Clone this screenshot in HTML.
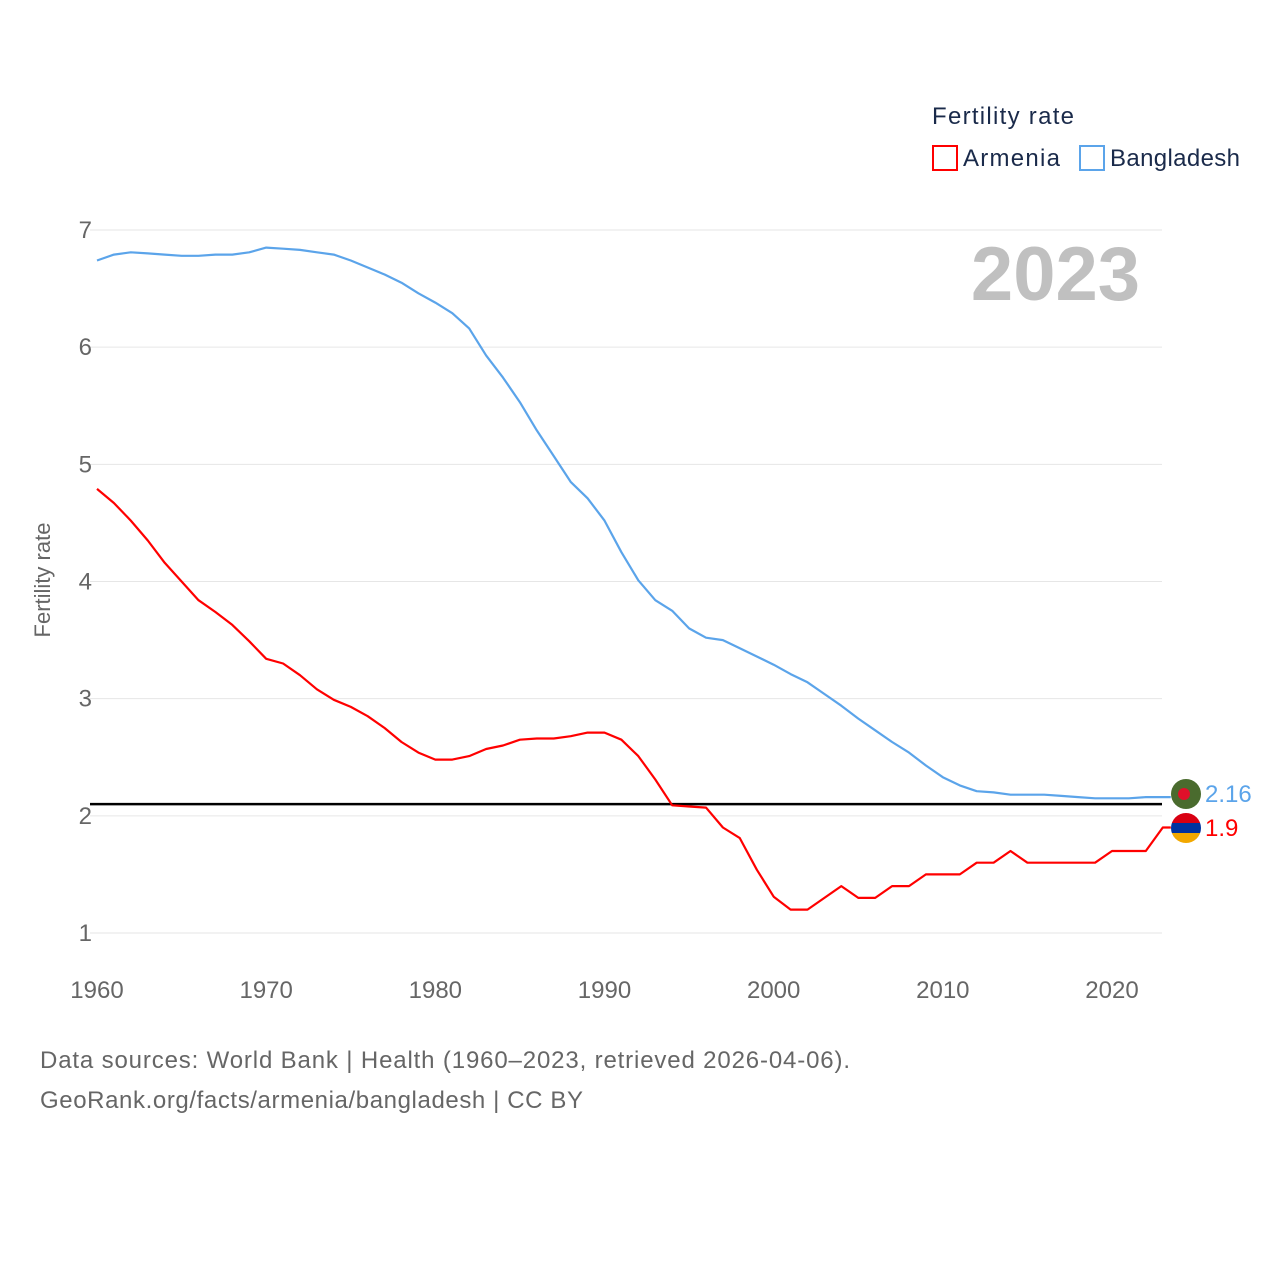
<!DOCTYPE html>
<html><head><meta charset="utf-8"><style>
body{margin:0;background:#fff;font-family:"Liberation Sans",sans-serif}
svg{display:block}
</style></head><body>
<svg id="chart" width="1280" height="1280" xmlns="http://www.w3.org/2000/svg">
<g id="grid"></g>
<g id="yticks"></g>
<g id="xticks"></g>
<text x="1140" y="300" text-anchor="end" font-size="76" font-weight="bold" fill="#c0c0c0">2023</text>
<text transform="translate(50,580) rotate(-90)" text-anchor="middle" font-size="22" fill="#666">Fertility rate</text>
<g id="series"></g>
<g>
<text x="932" y="124" font-size="24" fill="#1a2a4a" textLength="142">Fertility rate</text>
<g><rect x="933" y="146" width="24" height="24" fill="none" stroke="#ff0000" stroke-width="2"/><text x="963" y="166" font-size="24" fill="#1a2a4a" textLength="97">Armenia</text></g>
<g><rect x="1080" y="146" width="24" height="24" fill="none" stroke="#5ba4ea" stroke-width="2"/><text x="1110" y="166" font-size="24" fill="#1a2a4a" textLength="130">Bangladesh</text></g>
</g>
<g><circle cx="1186" cy="794" r="15" fill="#4a6b2e"/><circle cx="1184" cy="794" r="6" fill="#e0102a"/></g>
<g><clipPath id="cp"><circle cx="1186" cy="828" r="15"/></clipPath><g clip-path="url(#cp)"><rect x="1170" y="813" width="32" height="10" fill="#d90012"/><rect x="1170" y="823" width="32" height="10" fill="#0033a0"/><rect x="1170" y="833" width="32" height="11" fill="#f2a800"/></g></g>
<text x="1205" y="802" font-size="24" fill="#5ba4ea">2.16</text>
<text x="1205" y="836" font-size="24" fill="#ff0000">1.9</text>
<text x="40" y="1068" font-size="24" fill="#666" textLength="810">Data sources: World Bank | Health (1960–2023, retrieved 2026-04-06).</text>
<text x="40" y="1108" font-size="24" fill="#666" textLength="543">GeoRank.org/facts/armenia/bangladesh | CC BY</text>
</svg>
<script>
const years=[];for(let y=1960;y<=2023;y++)years.push(y);
const bangladesh=[6.74,6.79,6.81,6.80,6.79,6.78,6.78,6.79,6.79,6.81,6.85,6.84,6.83,6.81,6.79,6.74,6.68,6.62,6.55,6.46,6.38,6.29,6.16,5.93,5.74,5.53,5.29,5.07,4.85,4.71,4.52,4.25,4.01,3.84,3.75,3.60,3.52,3.50,3.43,3.36,3.29,3.21,3.14,3.04,2.94,2.83,2.73,2.63,2.54,2.43,2.33,2.26,2.21,2.20,2.18,2.18,2.18,2.17,2.16,2.15,2.15,2.15,2.16,2.16];
const armenia=[4.79,4.67,4.52,4.35,4.16,4.00,3.84,3.74,3.63,3.49,3.34,3.30,3.20,3.08,2.99,2.93,2.85,2.75,2.63,2.54,2.48,2.48,2.51,2.57,2.60,2.65,2.66,2.66,2.68,2.71,2.71,2.65,2.51,2.31,2.09,2.08,2.07,1.90,1.81,1.54,1.31,1.20,1.20,1.30,1.40,1.30,1.30,1.40,1.40,1.50,1.50,1.50,1.60,1.60,1.70,1.60,1.60,1.60,1.60,1.60,1.70,1.70,1.70,1.90];
const yTicks=[1,2,3,4,5,6,7];
const xTicks=[1960,1970,1980,1990,2000,2010,2020];
const replacement=2.1;
const NS="http://www.w3.org/2000/svg";
const X=v=>97+(v-1960)*(1015/60);
const Y=v=>933-(v-1)*(703/6);
function mk(t,a,p){const e=document.createElementNS(NS,t);for(const k in a)e.setAttribute(k,a[k]);p.appendChild(e);return e;}
const grid=document.getElementById('grid'),yt=document.getElementById('yticks'),xt=document.getElementById('xticks'),se=document.getElementById('series');
yTicks.forEach(v=>{
const l=mk('line',{x1:90,x2:1162,y1:Y(v),y2:Y(v),stroke:'#e6e6e6','stroke-width':1},grid);


const t=mk('text',{x:92,y:Y(v)+8,'text-anchor':'end','font-size':24,fill:'#666'},yt);t.textContent=v;


});
xTicks.forEach(v=>{
const t=mk('text',{x:X(v),y:998,'text-anchor':'middle','font-size':24,fill:'#666'},xt);t.textContent=v;


});
const rl=mk('line',{x1:90,x2:1162,y1:Y(replacement),y2:Y(replacement),stroke:'#000','stroke-width':2.5},se);


function line(d,c,n){
let s=d.map((v,i)=>(i?'L':'M')+X(years[i]).toFixed(1)+','+Y(v).toFixed(1)).join(' ');
s+=' L'+(X(years[years.length-1])+8).toFixed(1)+','+Y(d[d.length-1]).toFixed(1);
const p=mk('path',{d:s,fill:'none',stroke:c,'stroke-width':2.2,'stroke-linejoin':'round'},se);


}
line(bangladesh,'#5ba4ea','line-bangladesh');
line(armenia,'#ff0000','line-armenia');
</script>
</body></html>
